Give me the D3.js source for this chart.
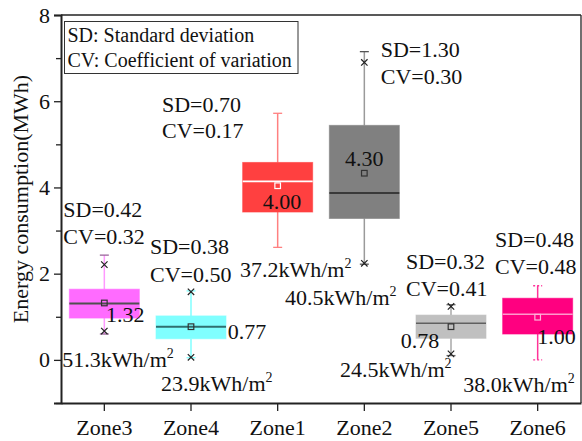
<!DOCTYPE html>
<html><head><meta charset="utf-8">
<script src="https://cdn.jsdelivr.net/npm/d3@7"></script>
<style>
html,body{margin:0;padding:0;background:#fff;}
svg{display:block;}
svg text{font-family:"Liberation Serif","Times New Roman",Times,"Tinos","DejaVu Serif",serif !important;fill:#111;}
</style></head>
<body><svg id="c" width="582" height="441"></svg>
<script>
// ---- data ----
const zones = ["Zone3","Zone4","Zone1","Zone2","Zone5","Zone6"];
const q1 = [0.97, 0.49, 3.43, 3.28, 0.50, 0.60];
const q3 = [1.64, 1.02, 4.58, 5.44, 1.04, 1.43];
const medians = [1.31, 0.77, 4.14, 3.87, 0.85, 1.06];
const means = [1.32, 0.77, 4.04, 4.33, 0.77, 0.99];
const whiskerLow = [0.60, 0.05, 2.61, 2.22, 0.10, 0.00];
const whiskerHigh = [2.43, 1.60, 5.72, 7.15, 1.28, 1.72];
const markHigh = [2.21, 1.58, null, 6.90, 1.24, null];
const markLow = [0.67, 0.06, null, 2.24, 0.14, null];
const sdLabels = ["SD=0.42","SD=0.38","SD=0.70","SD=1.30","SD=0.32","SD=0.48"];
const cvLabels = ["CV=0.32","CV=0.50","CV=0.17","CV=0.30","CV=0.41","CV=0.48"];
const meanLabels = ["1.32","0.77","4.00","4.30","0.78","1.00"];
const intensityLabels = ["51.3kWh/m","23.9kWh/m","37.2kWh/m","40.5kWh/m","24.5kWh/m","38.0kWh/m"];
const yTicks = [0, 2, 4, 6, 8];
const yMinorTicks = [-1, 1, 3, 5, 7];
const legendLines = ["SD: Standard deviation","CV: Coefficient of variation"];

// ---- styles ----
const FONT = '"Liberation Serif","Times New Roman",Times,"DejaVu Serif",serif';
const boxFill = ["#FF6BFF","#80FFFF","#FF4040","#808080","#C0C0C0","#FF0080"];
const whiskerCol = ["#FF99FF","#80FFFF","#FF8080","#9A9A9A","#A8A8A8","#FF3399"];
const capCol = ["#9A669A","#80FFFF","#FF8080","#555555","#666666","#FF3399"];
const medianCol = ["#505050","#2F6F6F","#FFFFFF","#222222","#606060","#FF99CC"];
const meanStroke = ["#333","#333","#FFFFFF","#333","#333","#FFB3D9"];
// label layout (pixel offsets relative to zone center / absolute baselines)
const sdLayout = [[-41,217,244.3],[-41,254,281.7],[-115.7,111.7,138.3],[16.4,56.7,84.3],[-45,269,296],[-42.7,246.7,274]];
const meanLayout = [[1.7,321.7],[36.7,339],[-15,209.3],[-19.3,165.7],[-50.3,348.3],[-0.4,344]];
const intLayout = [[-42,366.7],[-30,390.7],[-37.7,277.3],[-79.3,305],[-111,377.3],[-74.4,391.7]];

const svg = d3.select("#c");
const L = 61, R = 581, T = 15, B = 403;
const x = d3.scaleBand().domain(zones).range([L, R]).paddingInner(0).paddingOuter(0);
const y = d3.scaleLinear().domain([-1, 8]).range([B, T]);
const cx = z => x(z) + x.bandwidth() / 2;
const bw = 70;
const FS = 22;

const txt = (sel, size) => sel.attr("font-family", FONT).style("font-family", FONT).style("font-size", size + "px");

// frame top/right
svg.append("line").attr("x1",L).attr("x2",R).attr("y1",T).attr("y2",T).attr("stroke","#222").attr("stroke-width",1.3);
svg.append("line").attr("x1",R).attr("x2",R).attr("y1",T).attr("y2",B).attr("stroke","#222").attr("stroke-width",1.3);

// y axis
const ya = svg.append("g").attr("transform",`translate(${L},0)`)
  .call(d3.axisLeft(y).tickValues(yTicks).tickFormat(d3.format("d")).tickSize(7).tickPadding(4));
ya.attr("font-family", FONT);
const ym = svg.append("g").attr("transform",`translate(${L},0)`)
  .call(d3.axisLeft(y).tickValues(yMinorTicks).tickFormat("").tickSize(5));
ym.select("path.domain").remove();
ya.selectAll("path.domain").attr("stroke","#222").attr("stroke-width",2);
svg.selectAll(".tick line").attr("stroke","#222").attr("stroke-width",1.3);
txt(ya.selectAll("text"), FS).attr("fill","#111");

// x axis
const xa = svg.append("g").attr("transform",`translate(0,${B})`)
  .call(d3.axisBottom(x).tickSize(8).tickPadding(8).tickSizeOuter(0));
xa.attr("font-family", FONT);
xa.selectAll("path.domain").attr("stroke","#222").attr("stroke-width",2);
xa.selectAll(".tick line").attr("stroke","#222").attr("stroke-width",1.3);
txt(xa.selectAll("text"), FS).attr("fill","#111");

// y label
txt(svg.append("text").attr("transform",`translate(28,${(T+B)/2 - 10}) rotate(-90)`)
  .attr("text-anchor","middle"), FS).text("Energy consumption(MWh)");

// legend
svg.append("rect").attr("x",64.5).attr("y",21.5).attr("width",233.5).attr("height",52)
  .attr("fill","none").attr("stroke","#333").attr("stroke-width",1);
legendLines.forEach((t,i)=>{
  txt(svg.append("text").attr("x",67.5).attr("y",41.7 + i*25), 20).text(t);
});

// boxes
zones.forEach((z,i)=>{
  const c = cx(z);
  const g = svg.append("g");
  g.append("line").attr("x1",c).attr("x2",c).attr("y1",y(q3[i])).attr("y2",y(whiskerHigh[i]))
    .attr("stroke",whiskerCol[i]).attr("stroke-width",1.5);
  g.append("line").attr("x1",c).attr("x2",c).attr("y1",y(q1[i])).attr("y2",y(whiskerLow[i]))
    .attr("stroke",whiskerCol[i]).attr("stroke-width",1.5);
  [whiskerHigh[i], whiskerLow[i]].forEach(v=>{
    g.append("line").attr("x1",c-4.5).attr("x2",c+4.5).attr("y1",y(v)).attr("y2",y(v))
      .attr("stroke",capCol[i]).attr("stroke-width",1.3)
      .attr("stroke-dasharray", i===5 ? "2,2" : null);
  });
  g.append("rect").attr("x",c-bw/2).attr("width",bw).attr("y",y(q3[i])).attr("height",y(q1[i])-y(q3[i]))
    .attr("fill",boxFill[i]).attr("stroke",boxFill[i]).attr("stroke-opacity",0.6).attr("stroke-width",1);
  g.append("line").attr("x1",c-bw/2).attr("x2",c+bw/2).attr("y1",y(medians[i])).attr("y2",y(medians[i]))
    .attr("stroke",medianCol[i]).attr("stroke-width",i<2?2:1.6);
  g.append("rect").attr("x",c-2.8).attr("y",y(means[i])-2.8).attr("width",5.6).attr("height",5.6)
    .attr("fill","none").attr("stroke",meanStroke[i]).attr("stroke-width",1.2);
  [markHigh[i], markLow[i]].forEach(v=>{
    if(v===null) return;
    const yy = y(v), s = 3.2;
    g.append("path").attr("d",`M${c-s},${yy-s}L${c+s},${yy+s}M${c-s},${yy+s}L${c+s},${yy-s}`)
      .attr("stroke","#222").attr("stroke-width",1.2);
  });
});

// annotations
zones.forEach((z,i)=>{
  const c = cx(z);
  txt(svg.append("text").attr("x",c+sdLayout[i][0]).attr("y",sdLayout[i][1]), FS).text(sdLabels[i]);
  txt(svg.append("text").attr("x",c+sdLayout[i][0]).attr("y",sdLayout[i][2]), FS).text(cvLabels[i]);
  txt(svg.append("text").attr("x",c+meanLayout[i][0]).attr("y",meanLayout[i][1]), FS).text(meanLabels[i]);
  const t = txt(svg.append("text").attr("x",c+intLayout[i][0]).attr("y",intLayout[i][1]), FS);
  t.append("tspan").text(intensityLabels[i]);
  t.append("tspan").attr("dy",-9).style("font-size","14px").text("2");
});
</script></body></html>
